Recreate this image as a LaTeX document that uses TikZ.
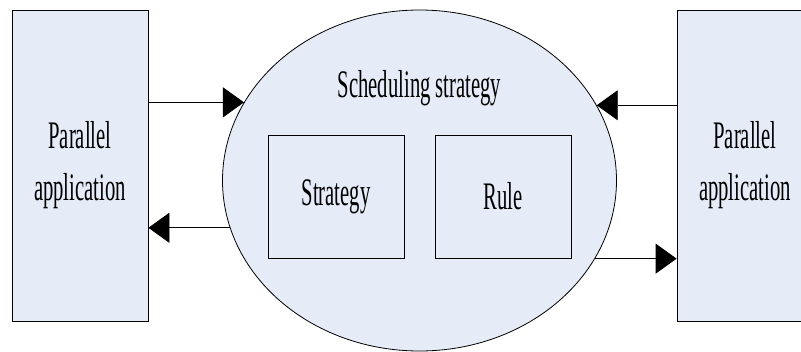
\documentclass[tikz,border=0pt]{standalone}
\usepackage{fontspec}
\setmainfont[FakeStretch=0.53]{Liberation Serif}
\usetikzlibrary{arrows.meta,shapes.geometric}
\definecolor{boxfill}{RGB}{230,236,247}

\tikzset{
  appbox/.style={draw, fill=boxfill, line width=0.8pt, minimum width=136pt,
    minimum height=311pt, inner sep=0pt, align=center,
    font=\fontsize{39}{52}\selectfont},
  partbox/.style={draw, fill=boxfill, line width=0.8pt, minimum width=136pt,
    minimum height=123pt, inner sep=0pt, font=\fontsize{39}{52}\selectfont},
  flow/.style={line width=0.8pt, -{Triangle[length=21pt,width=30pt]}}
}

\begin{document}
\begin{tikzpicture}[x=1pt,y=-1pt]
            \useasboundingbox (0,0) rectangle (801,351);
            % Applications
            \node[appbox] (appL) at (80,165.5) {Parallel\\application};
            \node[appbox] (appR) at (745,165.5) {Parallel\\application};
            % Scheduler
            \node[ellipse, draw, fill=boxfill, line width=0.8pt, inner sep=0pt,
              minimum width=394pt, minimum height=341pt] (sched) at (419.5,180.5) {};
            \node[anchor=base, font=\fontsize{39}{52}\selectfont] (title) at (419.5,97) {Scheduling strategy};
            \node[partbox] (strat) at (336,196.5) {Strategy};
            \node[partbox] (rule) at (503,196.5) {Rule};
            % Arrows
            \draw[flow] (appL.east |- sched.156.2) -- (sched.156.2);
            \draw[flow] (sched.194.1) -- (appL.east |- sched.194.1);
            \draw[flow] (appR.west |- sched.23.5) -- (sched.23.5);
            \draw[flow] (sched.336.2) -- (appR.west |- sched.336.2);
        \end{tikzpicture}
\end{document}
